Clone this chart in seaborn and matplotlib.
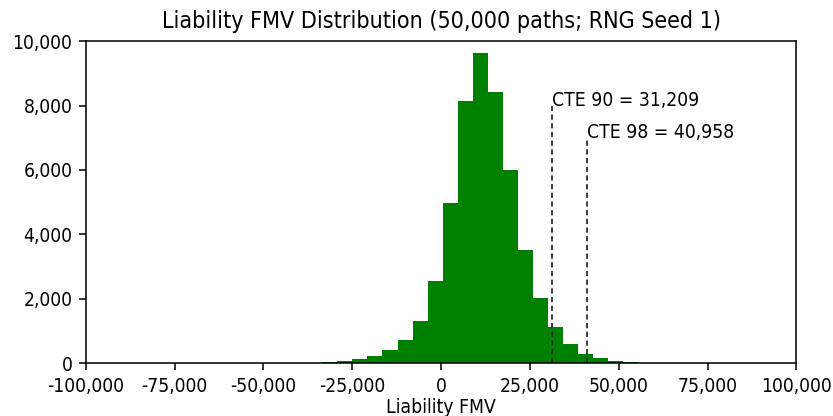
import numpy as np
import pandas as pd
import matplotlib
matplotlib.use("Agg")
import matplotlib.pyplot as plt
import matplotlib.ticker as mticker
import seaborn as sns

# Histogram bin edges (width ~4,235) and path counts per bin
bin_edges = [-37665, -33430, -29195, -24960, -20725, -16490, -12255, -8020,
             -3785, 450, 4685, 8920, 13155, 17390, 21625, 25860, 30095,
             34330, 38565, 42800, 47035, 51270, 55505, 59740, 63975]
bin_counts = [15, 35, 70, 130, 230, 400, 714, 1315,
              2557, 4980, 8150, 9640, 8430, 6010, 3510, 2030, 1108,
              590, 300, 145, 60, 25, 10, 4]

# Tail metrics
cte_labels = ["CTE 90", "CTE 98"]
cte_values = [31209, 40958]
cte_text_heights = [8000, 7000]

title = "Liability FMV Distribution (50,000 paths; RNG Seed 1)"
x_label = "Liability FMV"

plt.rcParams["font.family"] = ["DejaVu Sans"]
plt.rcParams["font.stretch"] = "condensed"

edges = np.array(bin_edges, dtype=float)
df = pd.DataFrame({
    "fmv": (edges[:-1] + edges[1:]) / 2,
    "count": np.array(bin_counts, dtype=float),
})

dpi = 139
fig = plt.figure(figsize=(833 / dpi, 416 / dpi), dpi=dpi)
ax = fig.add_axes([0.103, 0.127, 0.853, 0.774])

sns.histplot(data=df, x="fmv", weights="count", bins=list(edges),
             color="green", alpha=1.0, linewidth=0, ax=ax)

for lab, val, h in zip(cte_labels, cte_values, cte_text_heights):
    ax.vlines(val, 0, h, colors="#222222", linestyles=(0, (3, 2)), linewidth=0.9)
    ax.text(val, h, f"{lab} = {val:,.0f}", fontsize=10, color="black")

ax.set_xlim(-100000, 100000)
ax.set_ylim(0, 10000)
ax.xaxis.set_major_locator(mticker.MultipleLocator(25000))
ax.yaxis.set_major_locator(mticker.MultipleLocator(2000))
fmt = mticker.FuncFormatter(lambda v, p: f"{v:,.0f}")
ax.xaxis.set_major_formatter(fmt)
ax.yaxis.set_major_formatter(fmt)
ax.tick_params(labelsize=10)
ax.set_title(title, fontsize=12, pad=7)
ax.set_xlabel(x_label, fontsize=10, labelpad=1)
ax.set_ylabel("")

fig.savefig("out.png", dpi=dpi)
